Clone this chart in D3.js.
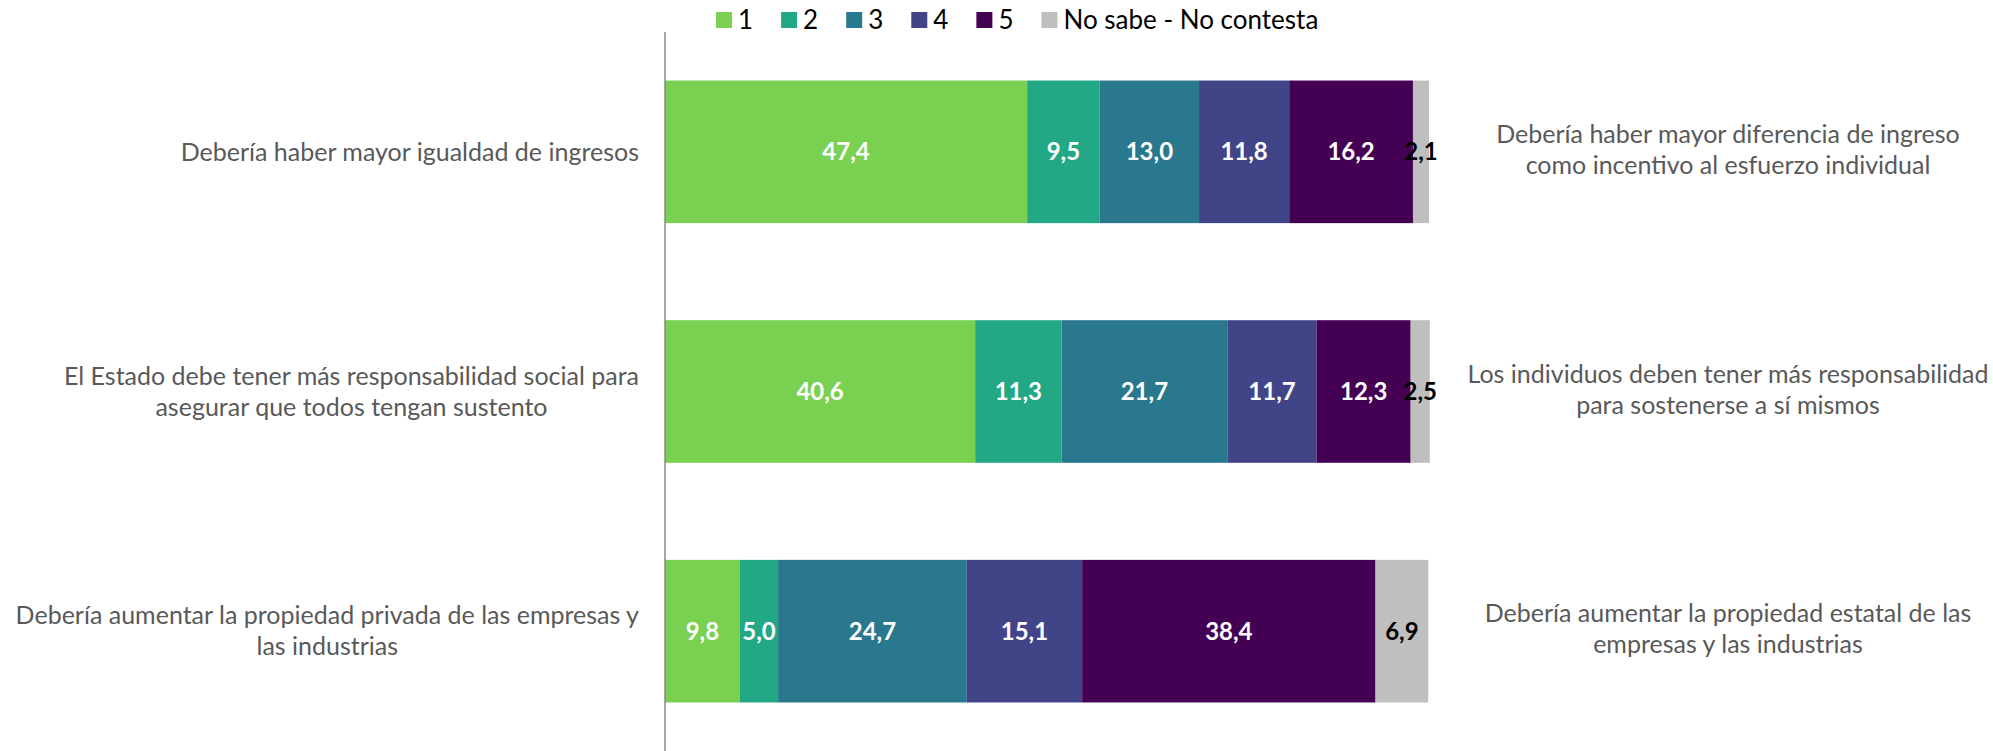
<!DOCTYPE html>
<html>
<head>
<meta charset="utf-8">
<script src="https://cdn.jsdelivr.net/npm/d3@7"></script>
<style>
  body { margin: 0; background: #fff; }
  text { font-family: Lato, "Liberation Sans", sans-serif; }
</style>
</head>
<body>
<div id="chart"></div>
<script>
// Data
const leftLabels = [
  ['Debería haber mayor igualdad de ingresos'],
  ['El Estado debe tener más responsabilidad social para', 'asegurar que todos tengan sustento'],
  ['Debería aumentar la propiedad privada de las empresas y', 'las industrias']
];
const rightLabels = [
  ['Debería haber mayor diferencia de ingreso', 'como incentivo al esfuerzo individual'],
  ['Los individuos deben tener más responsabilidad', 'para sostenerse a sí mismos'],
  ['Debería aumentar la propiedad estatal de las', 'empresas y las industrias']
];
const seriesNames = ['1', '2', '3', '4', '5', 'No sabe - No contesta'];
const s1 = [47.4, 40.6, 9.8];
const s2 = [9.5, 11.3, 5.0];
const s3 = [13.0, 21.7, 24.7];
const s4 = [11.8, 11.7, 15.1];
const s5 = [16.2, 12.3, 38.4];
const nsnc = [2.1, 2.5, 6.9];

const colors = ['#7AD151', '#22A884', '#2A788E', '#414487', '#440154', '#BFBFBF'];
const labelColors = ['#fff', '#fff', '#fff', '#fff', '#fff', '#000'];

const width = 1993, height = 751;
const plot = { left: 665, right: 1429, top: 32, bottom: 751 };

// rows for the stack
const seriesValues = [s1, s2, s3, s4, s5, nsnc];
const rows = leftLabels.map((l, i) => {
  const r = { idx: i };
  seriesNames.forEach((n, j) => { r[n] = seriesValues[j][i]; });
  return r;
});
const stacked = d3.stack().keys(seriesNames)(rows);

const svg = d3.select('#chart')
  .append('svg')
  .attr('width', width)
  .attr('height', height);

const x = d3.scaleLinear().domain([0, 100]).range([plot.left, plot.right]);
const y = d3.scaleBand()
  .domain(rows.map(d => d.idx))
  .range([plot.top, plot.bottom])
  .paddingInner(0.405)
  .paddingOuter(0.2025);

const fmt = d3.formatLocale({ decimal: ',', thousands: '.', grouping: [3], currency: ['', ''] }).format('.1f');

// bars
const layer = svg.selectAll('.layer')
  .data(stacked)
  .enter()
  .append('g')
  .attr('class', 'layer')
  .attr('fill', (d, i) => colors[i]);

layer.selectAll('rect')
  .data(d => d)
  .enter()
  .append('rect')
  .attr('x', d => x(d[0]))
  .attr('y', d => y(d.data.idx))
  .attr('width', d => x(d[1]) - x(d[0]))
  .attr('height', y.bandwidth());

// value labels
layer.selectAll('text')
  .data((d, i) => d.map(v => ({ v, i, key: d.key })))
  .enter()
  .append('text')
  .attr('x', d => (x(d.v[0]) + x(d.v[1])) / 2)
  .attr('y', d => y(d.v.data.idx) + y.bandwidth() / 2)
  .attr('dy', '0.35em')
  .attr('text-anchor', 'middle')
  .attr('fill', d => labelColors[d.i])
  .style('font-size', '24px')
  .style('font-weight', 'bold')
  .text(d => fmt(d.v.data[d.key]));

// vertical axis line
svg.append('line')
  .attr('x1', plot.left).attr('x2', plot.left)
  .attr('y1', plot.top).attr('y2', plot.bottom)
  .attr('stroke', '#898989')
  .attr('stroke-width', 1.5);

// left category labels (block right-aligned, lines centred)
const lineH = 31;
leftLabels.forEach((lines, i) => {
  const g = svg.append('text')
    .attr('fill', '#595959')
    .style('font-size', '25px');
  const cy = y(i) + y.bandwidth() / 2;
  lines.forEach((t, k) => {
    g.append('tspan')
      .attr('y', cy + (k - (lines.length - 1) / 2) * lineH)
      .attr('dy', '0.35em')
      .text(t);
  });
  const w = d3.max(g.selectAll('tspan').nodes(), n => n.getComputedTextLength());
  g.attr('text-anchor', 'middle').selectAll('tspan').attr('x', 639 - w / 2);
});

// right labels
rightLabels.forEach((lines, i) => {
  const g = svg.append('text')
    .attr('fill', '#595959')
    .attr('text-anchor', 'middle')
    .style('font-size', '25px');
  const cy = y(i) + y.bandwidth() / 2 - 2;
  lines.forEach((t, k) => {
    g.append('tspan')
      .attr('x', 1728)
      .attr('y', cy + (k - (lines.length - 1) / 2) * lineH)
      .attr('dy', '0.35em')
      .text(t);
  });
});

// legend
const legend = svg.append('g').attr('transform', 'translate(716,20)');
let lx = 0;
seriesNames.forEach((n, i) => {
  const item = legend.append('g').attr('transform', `translate(${lx},0)`);
  item.append('rect')
    .attr('x', 0).attr('y', -8)
    .attr('width', 16).attr('height', 16)
    .attr('fill', colors[i]);
  const t = item.append('text')
    .attr('x', 22)
    .attr('dy', '0.35em')
    .attr('fill', '#000')
    .style('font-size', '26px')
    .text(n);
  lx += 22 + t.node().getComputedTextLength() + 28;
});
</script>
</body>
</html>
